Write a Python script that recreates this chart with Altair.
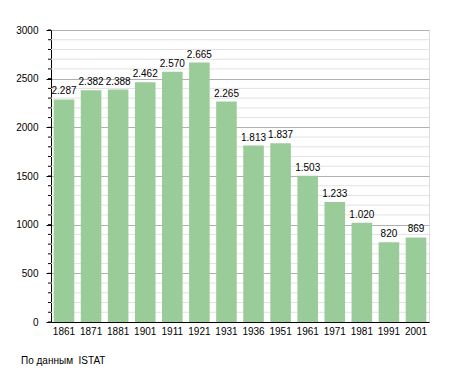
import altair as alt
import pandas as pd

years = ["1861", "1871", "1881", "1901", "1911", "1921", "1931", "1936",
         "1951", "1961", "1971", "1981", "1991", "2001"]
population = [2287, 2382, 2388, 2462, 2570, 2665, 2265, 1813, 1837, 1503,
              1233, 1020, 820, 869]
major_ticks = [0, 500, 1000, 1500, 2000, 2500, 3000]
minor_ticks = [v for v in range(0, 3001, 100) if v % 500 != 0]
source_note = "По данным\u00a0 ISTAT"

W, H = 378, 292
FONT = "Liberation Sans"

df = pd.DataFrame({
    "year": years,
    "pop": population,
    "label": [f"{v:,}".replace(",", ".") for v in population],
})
minor_df = pd.DataFrame({"v": minor_ticks})
all_ticks_df = pd.DataFrame({"v": list(range(0, 3001, 100))})
note_df = pd.DataFrame({"t": [source_note]})

yscale = alt.Scale(domain=[0, 3000], nice=False, zero=True)
xscale = alt.Scale(paddingInner=0.24, paddingOuter=0.1)

minor_grid = alt.Chart(minor_df).mark_rule(color="#e2e2e2", strokeWidth=1).encode(
    y=alt.Y("v:Q", scale=yscale),
    x=alt.value(0),
    x2=alt.value(W),
)

minor_tick = alt.Chart(all_ticks_df).mark_rule(color="#000000", strokeWidth=1).encode(
    y=alt.Y("v:Q", scale=yscale),
    x=alt.value(-3),
    x2=alt.value(0),
)

bars = alt.Chart(df).mark_bar(color="#99cc99").encode(
    x=alt.X("year:N", sort=years, scale=xscale,
            axis=alt.Axis(title=None, labelAngle=0, ticks=False, domainColor="#000000",
                          labelPadding=4, labelFont=FONT, labelFontSize=10,
                          labelColor="#000000", grid=False)),
    y=alt.Y("pop:Q", scale=yscale,
            axis=alt.Axis(title=None, values=major_ticks, format="d", grid=True,
                          gridColor="#b0b0b0",
                          domainColor="#000000", tickColor="#000000", tickSize=5,
                          labelPadding=8, labelFont=FONT, labelFontSize=10,
                          labelColor="#000000")),
)

labels = alt.Chart(df).mark_text(font=FONT, fontSize=10, color="#000000",
                                 baseline="bottom", dy=-3).encode(
    x=alt.X("year:N", sort=years, scale=xscale),
    y=alt.Y("pop:Q", scale=yscale),
    text="label:N",
)

note = alt.Chart(note_df).mark_text(font=FONT, fontSize=10, color="#000000",
                                    align="left", baseline="middle").encode(
    x=alt.value(-30),
    y=alt.value(H + 39),
    text="t:N",
)

chart = alt.layer(minor_grid, bars, minor_tick, labels, note).properties(
    width=W, height=H,
    padding={"left": 7, "top": 17, "right": 5, "bottom": 5},
).configure_view(stroke=None).configure(background="#ffffff")

chart.save("out.html", embed_options={"renderer": "svg", "actions": False})
